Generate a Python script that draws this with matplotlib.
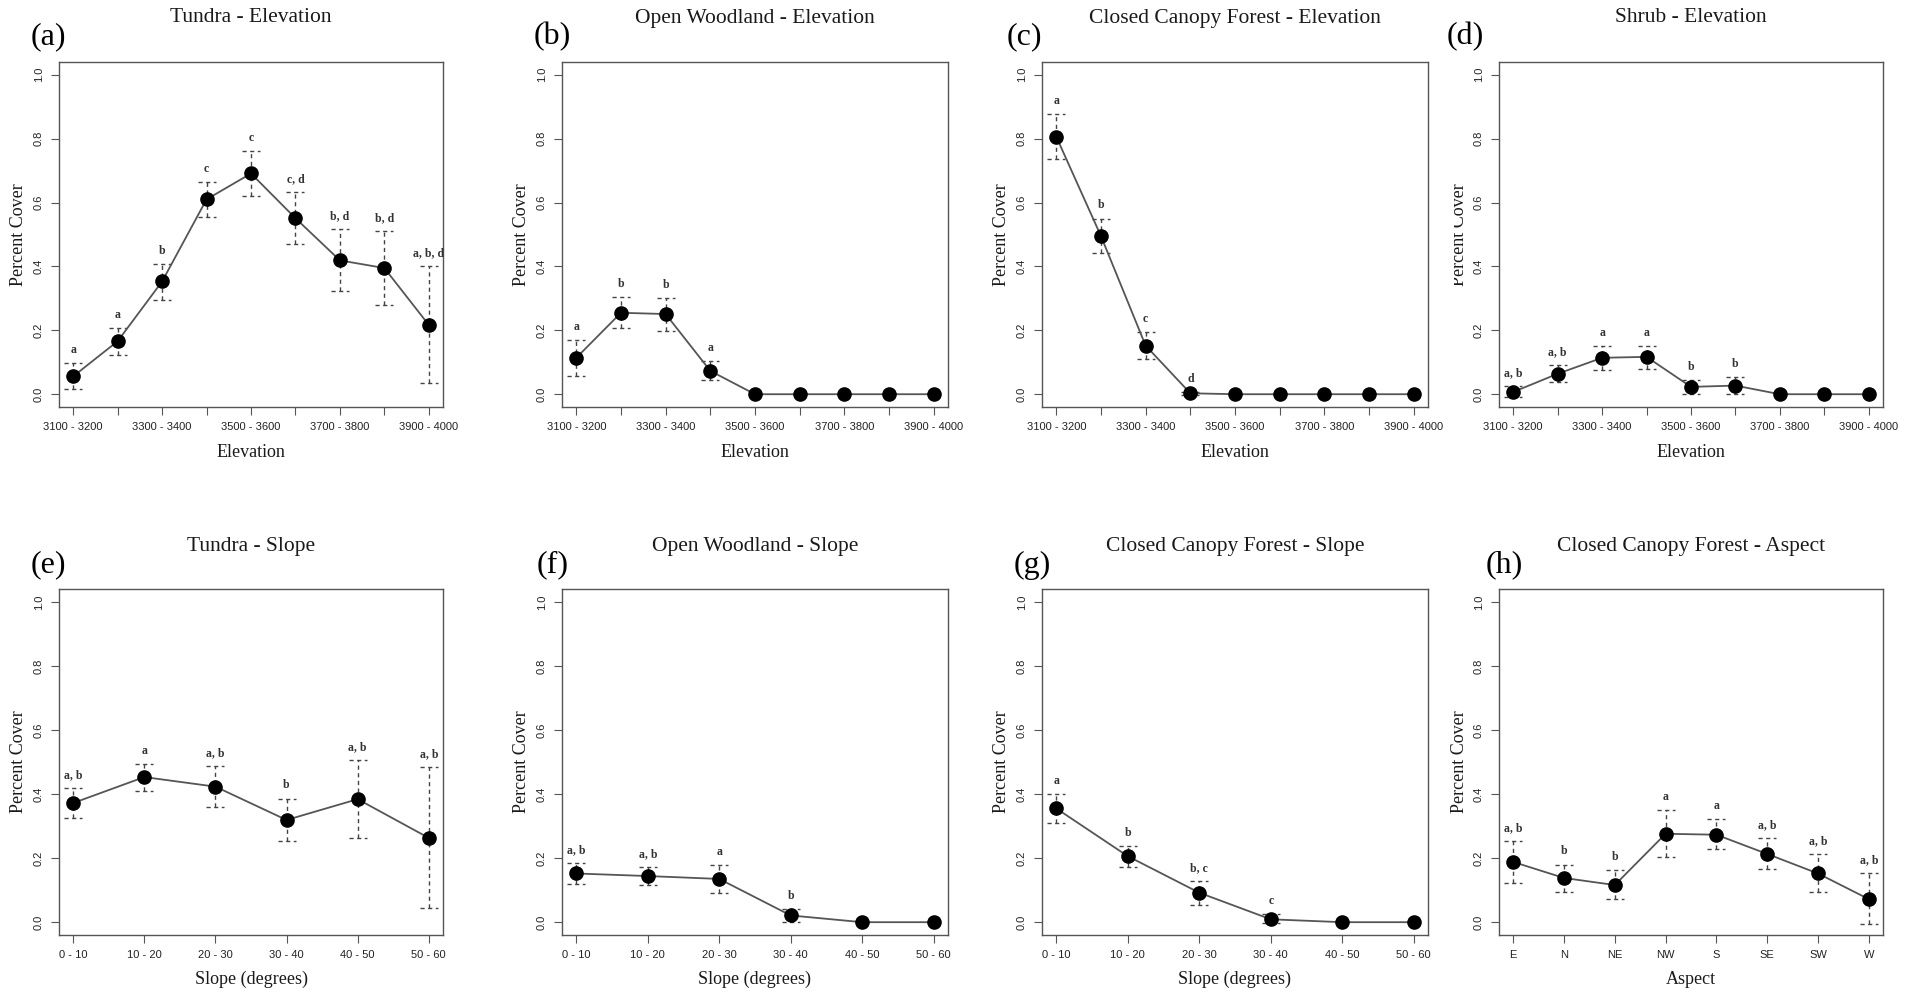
import matplotlib
matplotlib.use('Agg')
import matplotlib.pyplot as plt
from matplotlib.transforms import Bbox, TransformedBbox
import numpy as np

plt.rcParams['font.family'] = 'Liberation Serif'

nan = np.nan

#categorias dos eixos x
elev_cats = ['3100 - 3200', '3200 - 3300', '3300 - 3400', '3400 - 3500', '3500 - 3600',
             '3600 - 3700', '3700 - 3800', '3800 - 3900', '3900 - 4000']
slope_cats = ['0 - 10', '10 - 20', '20 - 30', '30 - 40', '40 - 50', '50 - 60']
aspect_cats = ['E', 'N', 'NE', 'NW', 'S', 'SE', 'SW', 'W']

#(a) tundra - elevation
tundra_elev = [0.056, 0.166, 0.353, 0.610, 0.691, 0.551, 0.419, 0.395, 0.217]
tundra_elev_lo = [0.015, 0.124, 0.296, 0.555, 0.622, 0.469, 0.322, 0.278, 0.035]
tundra_elev_hi = [0.098, 0.208, 0.409, 0.664, 0.761, 0.634, 0.516, 0.511, 0.400]
tundra_elev_grp = ['a', 'a', 'b', 'c', 'c', 'c, d', 'b, d', 'b, d', 'a, b, d']

#(b) open woodland - elevation
wood_elev = [0.114, 0.255, 0.251, 0.073, 0.0, 0.0, 0.0, 0.0, 0.0]
wood_elev_lo = [0.056, 0.208, 0.197, 0.044, nan, nan, nan, nan, nan]
wood_elev_hi = [0.169, 0.304, 0.302, 0.103, nan, nan, nan, nan, nan]
wood_elev_grp = ['a', 'b', 'b', 'a', '', '', '', '', '']

#(c) closed canopy forest - elevation
forest_elev = [0.806, 0.495, 0.152, 0.003, 0.0, 0.0, 0.0, 0.0, 0.0]
forest_elev_lo = [0.735, 0.441, 0.110, -0.003, nan, nan, nan, nan, nan]
forest_elev_hi = [0.877, 0.550, 0.196, 0.008, nan, nan, nan, nan, nan]
forest_elev_grp = ['a', 'b', 'c', 'd', '', '', '', '', '']

#(d) shrub - elevation
shrub_elev = [0.007, 0.064, 0.114, 0.117, 0.023, 0.027, 0.0, 0.0, 0.0]
shrub_elev_lo = [-0.008, 0.037, 0.077, 0.080, 0.0, 0.0, nan, nan, nan]
shrub_elev_hi = [0.025, 0.091, 0.151, 0.152, 0.046, 0.054, nan, nan, nan]
shrub_elev_grp = ['a, b', 'a, b', 'a', 'a', 'b', 'b', '', '', '']

#(e) tundra - slope
tundra_slope = [0.372, 0.453, 0.423, 0.319, 0.384, 0.263]
tundra_slope_lo = [0.326, 0.411, 0.358, 0.253, 0.262, 0.044]
tundra_slope_hi = [0.418, 0.494, 0.487, 0.386, 0.506, 0.483]
tundra_slope_grp = ['a, b', 'a', 'a, b', 'b', 'a, b', 'a, b']

#(f) open woodland - slope
wood_slope = [0.152, 0.144, 0.135, 0.021, 0.0, 0.0]
wood_slope_lo = [0.118, 0.116, 0.090, 0.0, nan, nan]
wood_slope_hi = [0.185, 0.173, 0.177, 0.041, nan, nan]
wood_slope_grp = ['a, b', 'a, b', 'a', 'b', '', '']

#(g) closed canopy forest - slope
forest_slope = [0.355, 0.206, 0.092, 0.009, 0.0, 0.0]
forest_slope_lo = [0.311, 0.173, 0.055, -0.004, nan, nan]
forest_slope_hi = [0.400, 0.238, 0.128, 0.026, nan, nan]
forest_slope_grp = ['a', 'b', 'b, c', 'c', '', '']

#(h) closed canopy forest - aspect
forest_aspect = [0.188, 0.138, 0.116, 0.276, 0.273, 0.213, 0.152, 0.072]
forest_aspect_lo = [0.123, 0.095, 0.071, 0.205, 0.228, 0.165, 0.095, -0.007]
forest_aspect_hi = [0.252, 0.180, 0.162, 0.350, 0.322, 0.262, 0.213, 0.152]
forest_aspect_grp = ['a, b', 'b', 'b', 'a', 'a', 'a, b', 'a, b', 'a, b']

W, H = 1921, 993
fig = plt.figure(figsize=(W / 100, H / 100), dpi=100)

lefts = [59, 562, 1042, 1499]
rights = [443, 948, 1428, 1883]
tops = [62, 589]
bottoms = [407, 935]
title_y = [18, 547]
letter_y = [37, 565]
letter_x = [[31, 534, 1007, 1447], [31, 537, 1014, 1486]]
xlab_y = [452, 979]

paineis = [
    ('(a)', 'Tundra - Elevation', 'Elevation', elev_cats, tundra_elev, tundra_elev_lo, tundra_elev_hi, tundra_elev_grp),
    ('(b)', 'Open Woodland - Elevation', 'Elevation', elev_cats, wood_elev, wood_elev_lo, wood_elev_hi, wood_elev_grp),
    ('(c)', 'Closed Canopy Forest - Elevation', 'Elevation', elev_cats, forest_elev, forest_elev_lo, forest_elev_hi, forest_elev_grp),
    ('(d)', 'Shrub - Elevation', 'Elevation', elev_cats, shrub_elev, shrub_elev_lo, shrub_elev_hi, shrub_elev_grp),
    ('(e)', 'Tundra - Slope', 'Slope (degrees)', slope_cats, tundra_slope, tundra_slope_lo, tundra_slope_hi, tundra_slope_grp),
    ('(f)', 'Open Woodland - Slope', 'Slope (degrees)', slope_cats, wood_slope, wood_slope_lo, wood_slope_hi, wood_slope_grp),
    ('(g)', 'Closed Canopy Forest - Slope', 'Slope (degrees)', slope_cats, forest_slope, forest_slope_lo, forest_slope_hi, forest_slope_grp),
    ('(h)', 'Closed Canopy Forest - Aspect', 'Aspect', aspect_cats, forest_aspect, forest_aspect_lo, forest_aspect_hi, forest_aspect_grp),
]

cinza = '#555555'

for k, (letra, titulo, xlab, cats, media, lo, hi, grp) in enumerate(paineis):
    row, col = divmod(k, 4)
    l, r, t, b = lefts[col], rights[col], tops[row], bottoms[row]
    ax = fig.add_axes([l / W, 1 - b / H, (r - l) / W, (b - t) / H])

    n = len(cats)
    x = np.arange(1, n + 1)
    ext = 0.04 * (n - 1)
    ax.set_xlim(1 - ext, n + ext)
    ax.set_ylim(-0.04, 1.04)

    #barras de erro tracejadas
    px_por_unidade = (r - l) / (n - 1 + 2 * ext)
    meia_barra = 9 / px_por_unidade
    for xi, a0, a1 in zip(x, lo, hi):
        if np.isnan(a0):
            continue
        ax.vlines(xi, a0, a1, colors='#444444', lw=1.0, linestyles=(0, (3, 2.5)), zorder=1)
        ax.hlines([a0, a1], xi - meia_barra, xi + meia_barra, colors='#444444', lw=1.0,
                  linestyles=(0, (3, 2.5)), zorder=1)

    ax.plot(x, media, '-', color=cinza, lw=1.3, zorder=2)
    ax.plot(x, media, 'o', color='black', ms=9.5, zorder=3)

    for xi, a1, g in zip(x, hi, grp):
        if g:
            ax.text(xi, a1 + 0.022, g, ha='center', va='bottom', fontsize=8.5,
                    fontweight='bold', color='#333333')

    ax.set_xticks(x)
    if cats is elev_cats:
        rotulos = [c if i % 2 == 0 else '' for i, c in enumerate(cats)]
    else:
        rotulos = cats
    ax.set_xticklabels(rotulos, fontfamily='Liberation Sans', fontsize=8, color='#222222')
    ax.set_yticks([0.0, 0.2, 0.4, 0.6, 0.8, 1.0])
    ax.set_yticklabels(['0.0', '0.2', '0.4', '0.6', '0.8', '1.0'], fontfamily='Liberation Sans',
                       fontsize=8, color='#222222', rotation=90, va='center')
    ax.tick_params(direction='out', length=6, width=0.8, color=cinza, pad=5)
    for s in ax.spines.values():
        s.set_color(cinza)
        s.set_linewidth(1.0)

    cx = (l + r) / 2
    fig.text(cx / W, 1 - title_y[row] / H, titulo, ha='center', va='center', fontsize=15.5, color='#1a1a1a')
    fig.text(letter_x[row][col] / W, 1 - letter_y[row] / H, letra, ha='left', va='center', fontsize=23)
    fig.text(cx / W, 1 - xlab_y[row] / H, xlab, ha='center', va='center', fontsize=13, color='#1a1a1a')
    yl = fig.text((l - 40) / W, 1 - (t + b) / 2 / H, 'Percent Cover', rotation=90,
                  ha='center', va='center', fontsize=13, color='#1a1a1a')
    if letra == '(d)':
        #no original o rotulo do painel (d) aparece cortado
        yl.set_clip_box(TransformedBbox(Bbox([[1454 / W, 0], [1, 1]]), fig.transFigure))
        yl.set_clip_on(True)

fig.savefig('out.png', dpi=100)
